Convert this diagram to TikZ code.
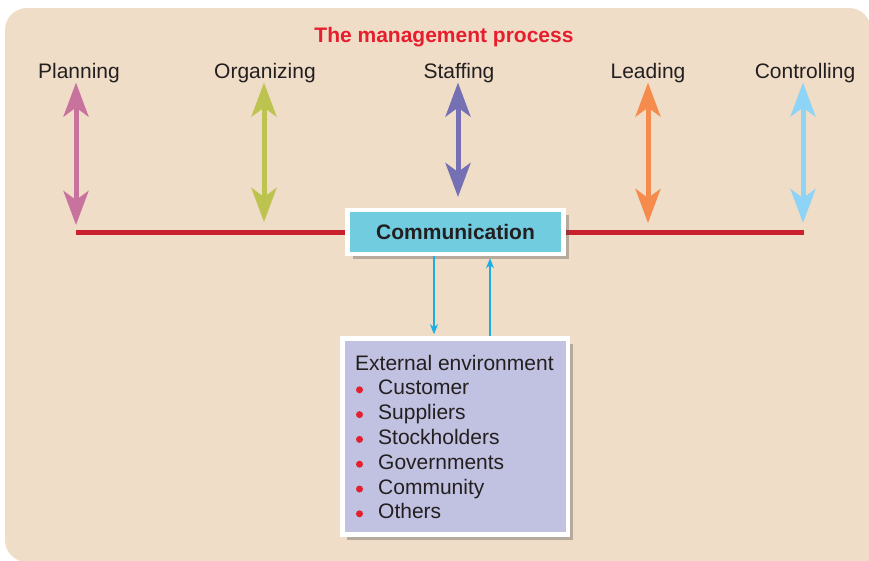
\documentclass[tikz,border=0pt]{standalone}
\usepackage{fontspec}
\setmainfont{Liberation Sans}
\usetikzlibrary{arrows.meta, positioning, shadows}

\definecolor{sand}{HTML}{F0DDC8}
\definecolor{ink}{HTML}{231F20}
\definecolor{titlered}{HTML}{E61E2D}
\definecolor{linered}{HTML}{C8202D}
\definecolor{planpink}{HTML}{C8729E}
\definecolor{orgolive}{HTML}{BCC44F}
\definecolor{staffviolet}{HTML}{7570B3}
\definecolor{leadorange}{HTML}{F58B4C}
\definecolor{ctrlblue}{HTML}{8DD4F6}
\definecolor{commcyan}{HTML}{72CCE0}
\definecolor{extlilac}{HTML}{C1C1E1}
\definecolor{linkblue}{HTML}{1BAEE5}
\definecolor{dotred}{HTML}{E5202E}

\begin{document}
\begin{tikzpicture}[x=1pt, y=-1pt,
        proclbl/.style={inner sep=0pt, text=ink, font=\fontsize{21}{25}\selectfont},
        titlelbl/.style={inner sep=0pt, text=titlered, font=\fontsize{21}{25}\selectfont\bfseries},
        procarrow/.style={line width=5pt, {Stealth[length=34pt, width=25pt, inset=9pt]}-{Stealth[length=34pt, width=25pt, inset=9pt]}},
        mainline/.style={draw=linered, line width=5pt},
        boxshadow/.style={drop shadow={shadow xshift=5pt, shadow yshift=-5pt, opacity=.35, fill=black!70}},
        commbox/.style={draw=white, line width=4.5pt, fill=commcyan, boxshadow, minimum width=216pt, minimum height=44pt, inner sep=0pt, text=ink, font=\fontsize{21}{25}\selectfont\bfseries},
        extbox/.style={draw=white, line width=4.5pt, fill=extlilac, boxshadow, minimum width=225.5pt, minimum height=196pt, inner sep=0pt},
        link/.style={draw=linkblue, line width=1.3pt, -{Stealth[length=10pt, width=8pt, inset=3pt]}, shorten >=2pt},
        dot/.style={fill=dotred}
    ]
        \useasboundingbox (0,0) rectangle (869,560);
        \clip (0,0) rectangle (869,560);
        \fill[sand, rounded corners=22pt] (5,8) rectangle (871,562);
        \fill[sand] (800,500) rectangle (871,562);

        \node[titlelbl, anchor=base] (title) at (444,42) {The management process};

        % the five functions
        \foreach \n/\txt/\lx/\ax/\ay/\col in {plan/Planning/79/76/225/planpink, org/Organizing/265/264/222/orgolive, staff/Staffing/459/458/197/staffviolet, lead/Leading/648/648/223/leadorange, ctrl/Controlling/805/803/223/ctrlblue}{
            \node[proclbl, anchor=base] (\n) at (\lx,78) {\txt};
            \coordinate (\n-end) at (\ax,\ay);
            \draw[procarrow, draw=\col] (\n.south -| \n-end) -- (\n-end);
        }

        \coordinate (rl) at (76,232);
        \coordinate (rr) at (804,232);
        \draw[mainline] (rl) -- (rr);

        \node[commbox] (comm) at (455.5,232) {Communication};
        \node[extbox] (ext) at (455,436.5) {};

        \node[proclbl, anchor=base west] (exthead) at (355,370) {External environment};
        \foreach \who [count=\i] in {Customer, Suppliers, Stockholders, Governments, Community, Others}{
            \fill[dot] (359.5,{365+24.8*\i}) circle (3.5pt);
            \node[proclbl, anchor=base west] (item\i) at (378,{370+24.8*\i}) {\who};
        }

        \coordinate (dn) at ([xshift=-21.5pt]comm.south);
        \coordinate (up) at ([xshift=34.5pt]comm.south);
        \draw[link] (dn) -- (dn |- ext.north);
        \draw[link] (up |- ext.north) -- (up);
    \end{tikzpicture}
\end{document}
